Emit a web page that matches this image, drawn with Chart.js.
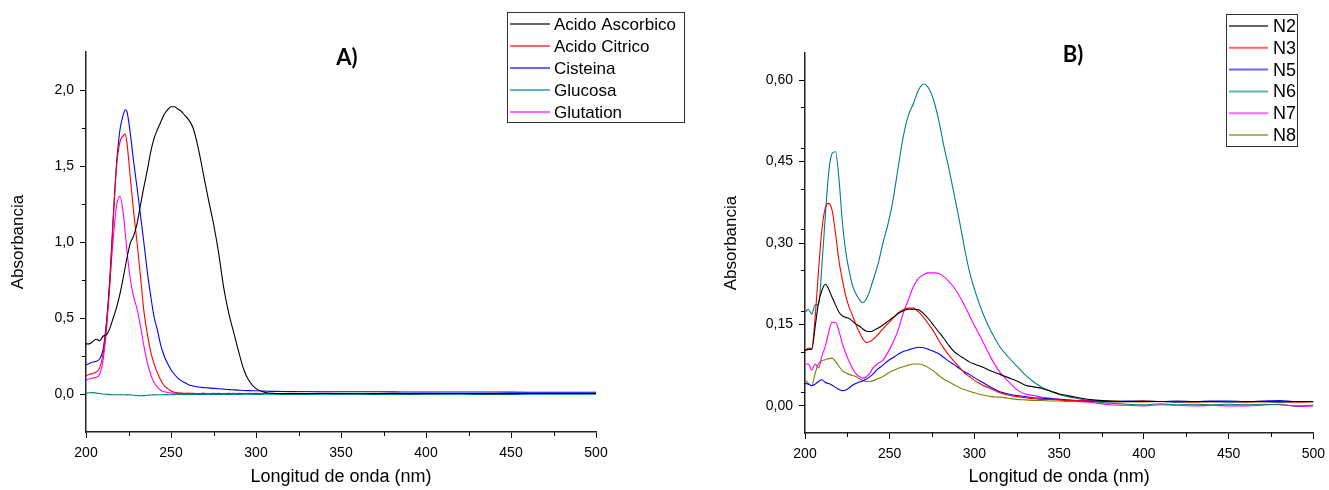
<!DOCTYPE html>
<html>
<head>
<meta charset="utf-8">
<script src="https://cdn.jsdelivr.net/npm/chart.js"></script>
<style>
  html, body { margin: 0; padding: 0; background: #fff; overflow: hidden; }
  #wrap { position: relative; width: 1329px; height: 490px; overflow: hidden; }
  #chartA { position: absolute; left: 0; top: 0; }
  #chartB { position: absolute; left: 703px; top: 0; }
</style>
</head>
<body>
<div id="wrap">
  <canvas id="chartA" width="700" height="490"></canvas>
  <canvas id="chartB" width="629" height="490"></canvas>
</div>
<script>
// --- Panel A data: wavelength (nm) and absorbance ---
const wlA = [200,202,204,206,208,210,212,214,216,218,220,222,223,224,226,228,230,232,234,236,
  238,240,242,244,246,248,250,252,254,256,258,260,263,266,269,272,275,278,281,284,
  287,290,293,296,300,305,310,320,340,360,380,400,420,440,460,480,500];

const acidoAscorbico = [0.33,0.33,0.345,0.36,0.35,0.38,0.39,0.43,0.50,0.57,
  0.66,0.77,0.83,0.89,0.99,1.04,1.12,1.24,1.36,1.47,
  1.59,1.68,1.74,1.79,1.84,1.87,1.89,1.89,1.875,1.86,
  1.835,1.81,1.75,1.62,1.45,1.28,1.12,0.93,0.70,0.53,
  0.40,0.27,0.155,0.085,0.035,0.012,0.005,0.003,0.003,0.002,
  0.003,0.002,0.003,0.002,0.003,0.003,0.003];
const acidoCitrico = [0.12,0.13,0.135,0.145,0.17,0.26,0.45,0.72,1.14,1.50,
  1.66,1.70,1.71,1.66,1.43,1.20,1.00,0.78,0.55,0.40,
  0.28,0.20,0.14,0.09,0.055,0.035,0.02,0.012,0.008,0.006,
  0.005,0.004,0.004,0.003,0.004,0.003,0.004,0.003,0.003,0.004,
  0.003,0.004,0.003,0.003,0.004,0.003,0.003,0.004,0.003,0.003,
  0.004,0.003,0.003,0.004,0.003,0.003,0.004];
const cisteina = [0.19,0.20,0.21,0.215,0.23,0.29,0.47,0.76,1.16,1.52,
  1.74,1.84,1.87,1.86,1.72,1.53,1.36,1.18,1.00,0.81,
  0.65,0.51,0.42,0.32,0.25,0.20,0.16,0.13,0.105,0.088,
  0.075,0.063,0.053,0.046,0.042,0.040,0.037,0.035,0.032,0.029,
  0.027,0.025,0.023,0.022,0.021,0.019,0.017,0.016,0.015,0.015,
  0.014,0.013,0.013,0.013,0.012,0.012,0.012];
const glucosa = [0.005,0.008,0.009,0.006,0.003,0.0,-0.002,-0.004,-0.005,-0.005,
  -0.004,-0.005,-0.005,-0.006,-0.005,-0.008,-0.01,-0.012,-0.011,-0.008,
  -0.007,-0.006,-0.005,-0.005,-0.004,-0.004,-0.005,-0.004,-0.003,-0.003,
  -0.004,-0.003,-0.003,-0.004,-0.003,-0.002,-0.003,-0.003,-0.002,-0.003,
  -0.002,-0.003,-0.002,-0.002,-0.003,-0.002,-0.002,-0.003,-0.002,-0.002,
  -0.003,-0.002,-0.002,-0.003,-0.002,-0.002,-0.002];
const glutation = [0.09,0.10,0.105,0.11,0.13,0.22,0.42,0.74,1.02,1.24,
  1.30,1.18,1.07,0.95,0.76,0.64,0.56,0.45,0.32,0.21,
  0.13,0.075,0.045,0.025,0.015,0.01,0.007,0.005,0.004,0.004,
  0.003,0.004,0.003,0.003,0.004,0.003,0.003,0.004,0.003,0.003,
  0.004,0.003,0.003,0.004,0.003,0.004,0.003,0.003,0.004,0.003,
  0.003,0.004,0.003,0.003,0.004,0.003,0.003];

const namesA = ["Acido Ascorbico", "Acido Citrico", "Cisteina", "Glucosa", "Glutation"];
const yTicksA = [0, 0.5, 1.0, 1.5, 2.0];
const yTickLabelsA = ["0,0", "0,5", "1,0", "1,5", "2,0"];

// --- Panel B data ---
const wlB = [200,202,204,206,208,210,212,214,216,218,220,222,224,226,228,230,232,234,236,238,240,
  243,246,249,252,255,258,261,264,267,270,273,276,279,282,285,288,291,294,297,300,
  305,310,315,320,325,330,335,340,345,350,355,360,
  370,380,390,400,410,420,430,440,450,460,470,480,490,500];

const n2 = [0.102,0.104,0.104,0.146,0.19,0.213,0.224,0.215,0.2,0.186,0.173,0.166,0.163,0.161,0.156,0.151,0.147,0.142,0.138,0.137,0.138,
  0.143,0.149,0.156,0.163,0.17,0.175,0.178,0.178,0.177,0.17,0.16,0.148,0.136,0.124,0.111,0.1,0.093,0.087,0.081,0.077,
  0.071,0.064,0.058,0.052,0.046,0.038,0.035,0.032,0.027,0.022,0.019,0.016,
  0.011,0.009,0.008,0.008,0.008,0.007,0.008,0.008,0.007,0.008,0.008,0.007,0.008,0.008];
const n3 = [0.102,0.106,0.106,0.164,0.25,0.325,0.365,0.373,0.36,0.318,0.268,0.233,0.203,0.182,0.167,0.15,0.136,0.124,0.117,0.118,0.122,
  0.131,0.142,0.152,0.161,0.171,0.177,0.18,0.18,0.173,0.163,0.15,0.137,0.12,0.106,0.093,0.082,0.072,0.061,0.054,0.047,
  0.038,0.031,0.024,0.02,0.017,0.015,0.013,0.012,0.012,0.011,0.01,0.01,
  0.009,0.009,0.008,0.009,0.008,0.008,0.007,0.008,0.008,0.007,0.008,0.008,0.007,0.008];
const n5 = [0.042,0.04,0.037,0.04,0.045,0.048,0.043,0.041,0.038,0.034,0.03,0.028,0.029,0.033,0.038,0.041,0.044,0.046,0.049,0.053,0.058,
  0.068,0.075,0.083,0.089,0.095,0.1,0.103,0.106,0.108,0.107,0.104,0.1,0.096,0.089,0.082,0.076,0.069,0.063,0.058,0.052,
  0.043,0.034,0.026,0.022,0.019,0.017,0.015,0.014,0.013,0.012,0.011,0.01,
  0.009,0.008,0.009,0.009,0.008,0.009,0.008,0.009,0.009,0.008,0.009,0.01,0.008,0.008];
const n6 = [0.172,0.178,0.169,0.186,0.186,0.26,0.35,0.43,0.465,0.468,0.42,0.34,0.285,0.25,0.222,0.207,0.196,0.19,0.196,0.21,0.23,
  0.26,0.30,0.335,0.38,0.44,0.496,0.535,0.557,0.582,0.593,0.585,0.562,0.525,0.478,0.436,0.39,0.343,0.293,0.248,0.215,
  0.17,0.136,0.109,0.09,0.073,0.057,0.044,0.034,0.027,0.021,0.017,0.014,
  0.008,0.005,0.003,0.002,0.004,0.002,0.003,0.002,0.003,0.002,0.003,0.002,0.0,0.001];
const n7 = [0.077,0.077,0.066,0.077,0.07,0.092,0.11,0.136,0.154,0.154,0.138,0.115,0.097,0.082,0.069,0.06,0.054,0.051,0.053,0.059,0.069,
  0.078,0.084,0.099,0.117,0.14,0.171,0.195,0.22,0.235,0.242,0.245,0.245,0.244,0.238,0.229,0.218,0.203,0.186,0.167,0.148,
  0.118,0.087,0.062,0.045,0.03,0.022,0.019,0.016,0.014,0.012,0.01,0.008,
  0.006,0.002,0.001,0.0,0.002,0.001,0.0,0.001,0.0,0.0,0.001,0.003,-0.001,0.0];
const n8 = [0.048,0.042,0.037,0.06,0.078,0.083,0.085,0.087,0.088,0.082,0.073,0.065,0.061,0.058,0.056,0.054,0.05,0.047,0.045,0.045,0.046,
  0.05,0.054,0.06,0.065,0.069,0.072,0.075,0.077,0.077,0.075,0.07,0.064,0.056,0.049,0.044,0.039,0.034,0.03,0.027,0.024,
  0.02,0.017,0.016,0.014,0.012,0.011,0.01,0.01,0.009,0.009,0.008,0.008,
  0.008,0.007,0.007,0.007,0.008,0.007,0.007,0.007,0.008,0.007,0.007,0.007,0.007,0.007];

const namesB = ["N2", "N3", "N5", "N6", "N7", "N8"];
const yTicksB = [0, 0.15, 0.30, 0.45, 0.60];
const yTickLabelsB = ["0,00", "0,15", "0,30", "0,45", "0,60"];

const xTicks = [200, 250, 300, 350, 400, 450, 500];
const xTickLabels = ["200", "250", "300", "350", "400", "450", "500"];

const colorsA = ["#000000", "#FF0000", "#0000FF", "#008080", "#FF00FF"];
const colorsB = ["#000000", "#FF0000", "#0000FF", "#008080", "#FF00FF", "#808000"];

Chart.defaults.font.family = "'Liberation Sans', Arial, sans-serif";
Chart.defaults.color = "#000";

// --- draws minor ticks, panel title and the boxed legend ---
const decorPlugin = {
  id: "decor",
  afterDraw(chart, args, o) {
    const ctx = chart.ctx;
    const xs = chart.scales.x, ys = chart.scales.y;
    ctx.save();
    ctx.strokeStyle = "#000";
    ctx.lineWidth = 1;
    // minor ticks
    const minor = (scale, step, major, isX) => {
      const n = Math.round((scale.max - scale.min) / step);
      for (let k = 1; k < n; k++) {
        const v = scale.min + k * step;
        const r = v / major;
        if (Math.abs(r - Math.round(r)) < 1e-6) continue;
        const p = Math.round(scale.getPixelForValue(v)) + 0.5;
        ctx.beginPath();
        if (isX) { ctx.moveTo(p, chart.chartArea.bottom); ctx.lineTo(p, chart.chartArea.bottom + 4); }
        else { ctx.moveTo(chart.chartArea.left, p); ctx.lineTo(chart.chartArea.left - 4, p); }
        ctx.stroke();
      }
    };
    minor(xs, 25, 50, true);
    minor(ys, o.minorY, o.majorY, false);

    // title
    ctx.fillStyle = "#000";
    ctx.font = "bold 22px Lato, 'Liberation Sans', sans-serif";
    ctx.textAlign = "center";
    ctx.textBaseline = "middle";
    ctx.fillText(o.title, o.titleX, o.titleY);

    // legend
    const L = o.legend;
    ctx.strokeStyle = "#333";
    ctx.lineWidth = 1;
    ctx.strokeRect(L.x + 0.5, L.y + 0.5, L.w, L.h);
    ctx.font = L.font;
    ctx.textAlign = "left";
    chart.data.datasets.forEach((ds, i) => {
      const y = L.row0 + i * L.rowH;
      ctx.globalAlpha = 0.6;
      ctx.strokeStyle = ds.borderColor;
      ctx.lineWidth = 2;
      ctx.beginPath();
      ctx.moveTo(L.lx1, y);
      ctx.lineTo(L.lx2, y);
      ctx.stroke();
      ctx.globalAlpha = 1;
      ctx.fillStyle = "#000";
      ctx.fillText(ds.label, L.tx, y + 1);
    });
    ctx.restore();
  }
};

function buildConfig(wl, names, series, colors, yr, yTicks, yLabels, layout, decor) {
  const datasets = series.map((s, i) => ({
    label: names[i],
    data: s.map((v, j) => ({ x: wl[j], y: v })),
    borderColor: colors[i],
    borderWidth: 1.1,
    pointRadius: 0,
    cubicInterpolationMode: "monotone",
    fill: false
  }));

  return {
    type: "line",
    data: { datasets },
    options: {
      responsive: false,
      animation: false,
      events: [],
      layout: { padding: layout.padding },
      plugins: {
        legend: { display: false },
        tooltip: { enabled: false },
        decor
      },
      scales: {
        x: {
          type: "linear",
          min: 200, max: 500,
          afterBuildTicks: s => { s.ticks = xTicks.map(v => ({ value: v })); },
          afterFit: s => { s.height = layout.xHeight; },
          ticks: { autoSkip: false, maxRotation: 0, padding: 7, font: { size: 14 },
            callback: (v, i) => xTickLabels[i] },
          grid: { drawOnChartArea: false, tickLength: 6, color: "#000", tickWidth: 1 },
          border: { color: "#222", width: 1.5 },
          title: { display: true, text: "Longitud de onda (nm)", font: { size: 18 },
            padding: { top: 0, bottom: 2 } }
        },
        y: {
          min: yr[0], max: yr[1],
          afterBuildTicks: s => { s.ticks = yTicks.map(v => ({ value: v })); },
          afterFit: s => { s.width = layout.yWidth; },
          ticks: { autoSkip: false, padding: 6, font: { size: 14 },
            callback: (v, i) => yLabels[i] },
          grid: { drawOnChartArea: false, tickLength: 6, color: "#000", tickWidth: 1 },
          border: { color: "#222", width: 1.5 },
          title: { display: true, text: "Absorbancia", font: { size: 17 },
            padding: { top: layout.yTitlePad, bottom: 0 } }
        }
      }
    },
    plugins: [decorPlugin]
  };
}

new Chart(document.getElementById("chartA"), buildConfig(
  wlA, namesA, [acidoAscorbico, acidoCitrico, cisteina, glucosa, glutation], colorsA,
  [-0.25, 2.25], yTicksA, yTickLabelsA,
  { padding: { left: 0, right: 104, top: 52, bottom: 0 }, xHeight: 58, yWidth: 86, yTitlePad: 8 },
  { minorY: 0.25, majorY: 0.5, title: "A)", titleX: 347, titleY: 58,
    legend: { x: 507, y: 12, w: 177, h: 110, row0: 24, rowH: 22, lx1: 510, lx2: 550, tx: 554,
      font: "17px 'Liberation Sans', Arial, sans-serif" } }
));

new Chart(document.getElementById("chartB"), buildConfig(
  wlB, namesB, [n2, n3, n5, n6, n7, n8], colorsB,
  [-0.05, 0.65], yTicksB, yTickLabelsB,
  { padding: { left: 0, right: 13, top: 53, bottom: 0 }, xHeight: 57, yWidth: 102, yTitlePad: 18 },
  { minorY: 0.075, majorY: 0.15, title: "B)", titleX: 370, titleY: 55,
    legend: { x: 523, y: 14, w: 71, h: 132, row0: 26, rowH: 21.8, lx1: 526, lx2: 565, tx: 570,
      font: "18px 'Liberation Sans', Arial, sans-serif" } }
));
</script>
</body>
</html>
